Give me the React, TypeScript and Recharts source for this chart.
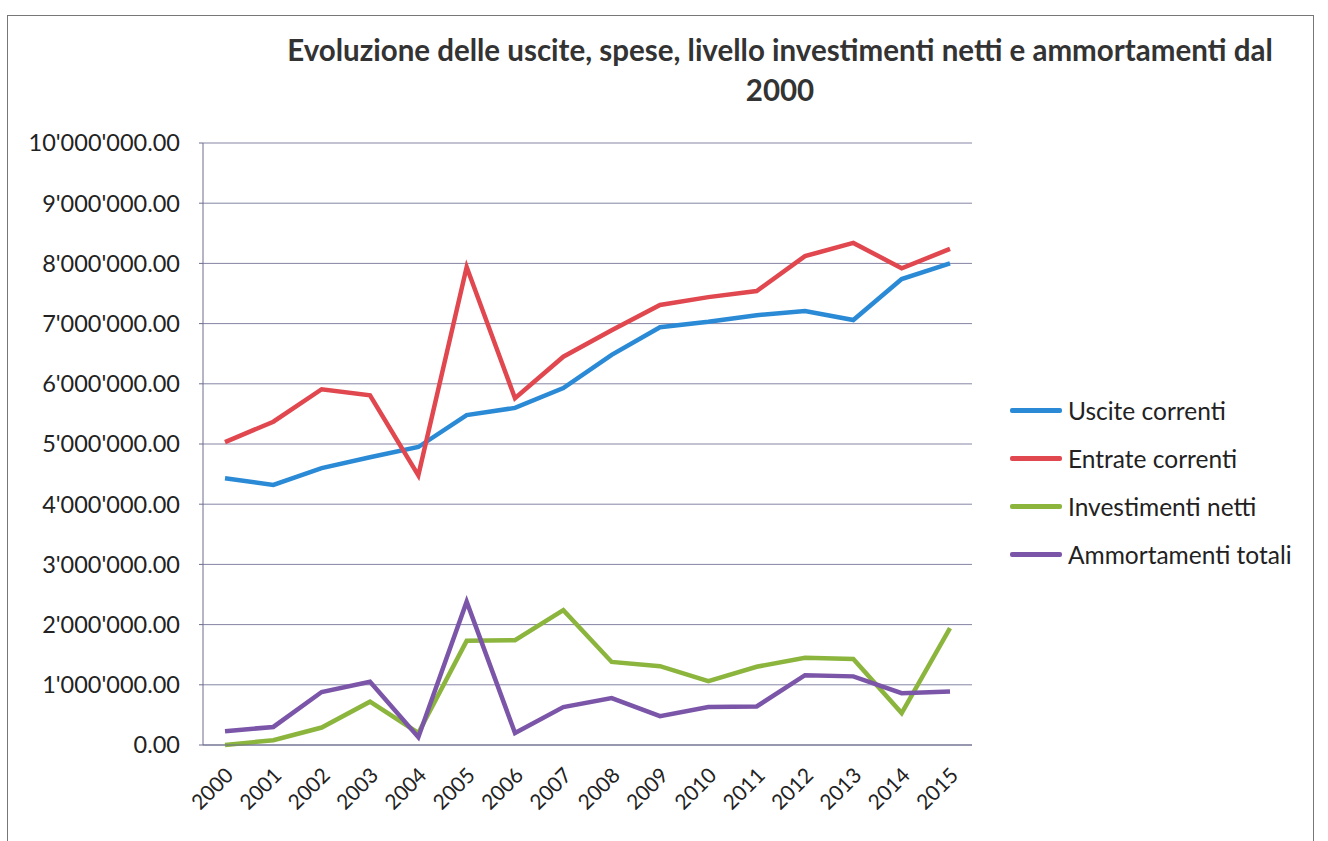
import { LineChart, Line, XAxis, YAxis, CartesianGrid } from 'recharts';

const years = ['2000', '2001', '2002', '2003', '2004', '2005', '2006', '2007', '2008', '2009', '2010', '2011', '2012', '2013', '2014', '2015'];
const usciteCorrenti = [4430000, 4320000, 4600000, 4780000, 4950000, 5480000, 5600000, 5930000, 6480000, 6940000, 7030000, 7140000, 7210000, 7060000, 7740000, 8000000];
const entrateCorrenti = [5030000, 5370000, 5910000, 5810000, 4480000, 7940000, 5760000, 6450000, 6890000, 7310000, 7440000, 7540000, 8120000, 8340000, 7920000, 8240000];
const investimentiNetti = [0, 80000, 290000, 720000, 200000, 1730000, 1740000, 2240000, 1380000, 1310000, 1060000, 1300000, 1450000, 1430000, 530000, 1940000];
const ammortamentiTotali = [230000, 300000, 880000, 1050000, 130000, 2380000, 200000, 630000, 780000, 480000, 630000, 640000, 1160000, 1140000, 860000, 890000];
const yTicks = [0, 1000000, 2000000, 3000000, 4000000, 5000000, 6000000, 7000000, 8000000, 9000000, 10000000];

const series = [
  { name: 'Uscite correnti', values: usciteCorrenti, color: '#2a8ad6' },
  { name: 'Entrate correnti', values: entrateCorrenti, color: '#e0474e' },
  { name: 'Investimenti netti', values: investimentiNetti, color: '#8cb53e' },
  { name: 'Ammortamenti totali', values: ammortamentiTotali, color: '#7b55a8' },
];

const data = years.map((y, i) => {
  const row: Record<string, string | number> = { year: y };
  series.forEach((s) => { row[s.name] = s.values[i]; });
  return row;
});

const FONT = 'Lato, "Open Sans", sans-serif';

const fmt = (v: number) => {
  const [int, dec] = v.toFixed(2).split('.');
  return int.replace(/\B(?=(\d{3})+(?!\d))/g, "'") + '.' + dec;
};

const XTick = (props: any) => {
  const { x, y, payload } = props;
  return (
    <g transform={`translate(${x + 4},${y + 18})`}>
      <text x={0} y={0} dy={8} textAnchor="end" transform="rotate(-45)" fill="#222" fontSize={21} fontFamily={FONT}>
        {payload.value}
      </text>
    </g>
  );
};

export default function App() {
  return (
    <div style={{ position: 'absolute', left: 0, top: 0, width: 1328, height: 841, background: '#fff', overflow: 'hidden' }}>
      <div style={{ position: 'absolute', left: 7, top: 15, width: 1305, height: 840, border: '1.5px solid #777' }} />
      <div
        style={{
          position: 'absolute', left: 250, top: 30, width: 1060, textAlign: 'center',
          fontFamily: FONT, fontWeight: 700, fontSize: 29.5, lineHeight: '40px', color: '#333',
        }}
      >
        Evoluzione delle uscite, spese, livello investimenti netti e ammortamenti dal
        <br />
        2000
      </div>
      <div style={{ position: 'absolute', left: 1010, top: 386, fontFamily: FONT, fontSize: 24.5, color: '#222' }}>
        {series.map((s) => (
          <div key={s.name} style={{ display: 'flex', alignItems: 'center', height: 48 }}>
            <div style={{ width: 52, height: 5, background: s.color, borderRadius: 2, marginRight: 6 }} />
            <span>{s.name}</span>
          </div>
        ))}
      </div>
      <LineChart width={1328} height={841} data={data} margin={{ top: 143, right: 356, bottom: 0, left: 0 }}>
        <CartesianGrid vertical={false} stroke="#8585a5" />
        <XAxis
          dataKey="year"
          padding={{ left: 22, right: 22 }}
          tick={<XTick />}
          tickLine={false}
          axisLine={{ stroke: '#6d6d8d' }}
          interval={0}
          height={96}
        />
        <YAxis
          width={203}
          domain={[0, 10000000]}
          ticks={yTicks}
          tickFormatter={fmt}
          tick={{ fill: '#222', fontSize: 23.5, fontFamily: FONT }}
          tickSize={4}
          tickMargin={19}
          axisLine={{ stroke: '#6d6d8d' }}
          tickLine={{ stroke: '#6d6d8d' }}
        />
        {series.map((s) => (
          <Line key={s.name} dataKey={s.name} stroke={s.color} strokeWidth={4.5} dot={false} isAnimationActive={false} />
        ))}
      </LineChart>
    </div>
  );
}
